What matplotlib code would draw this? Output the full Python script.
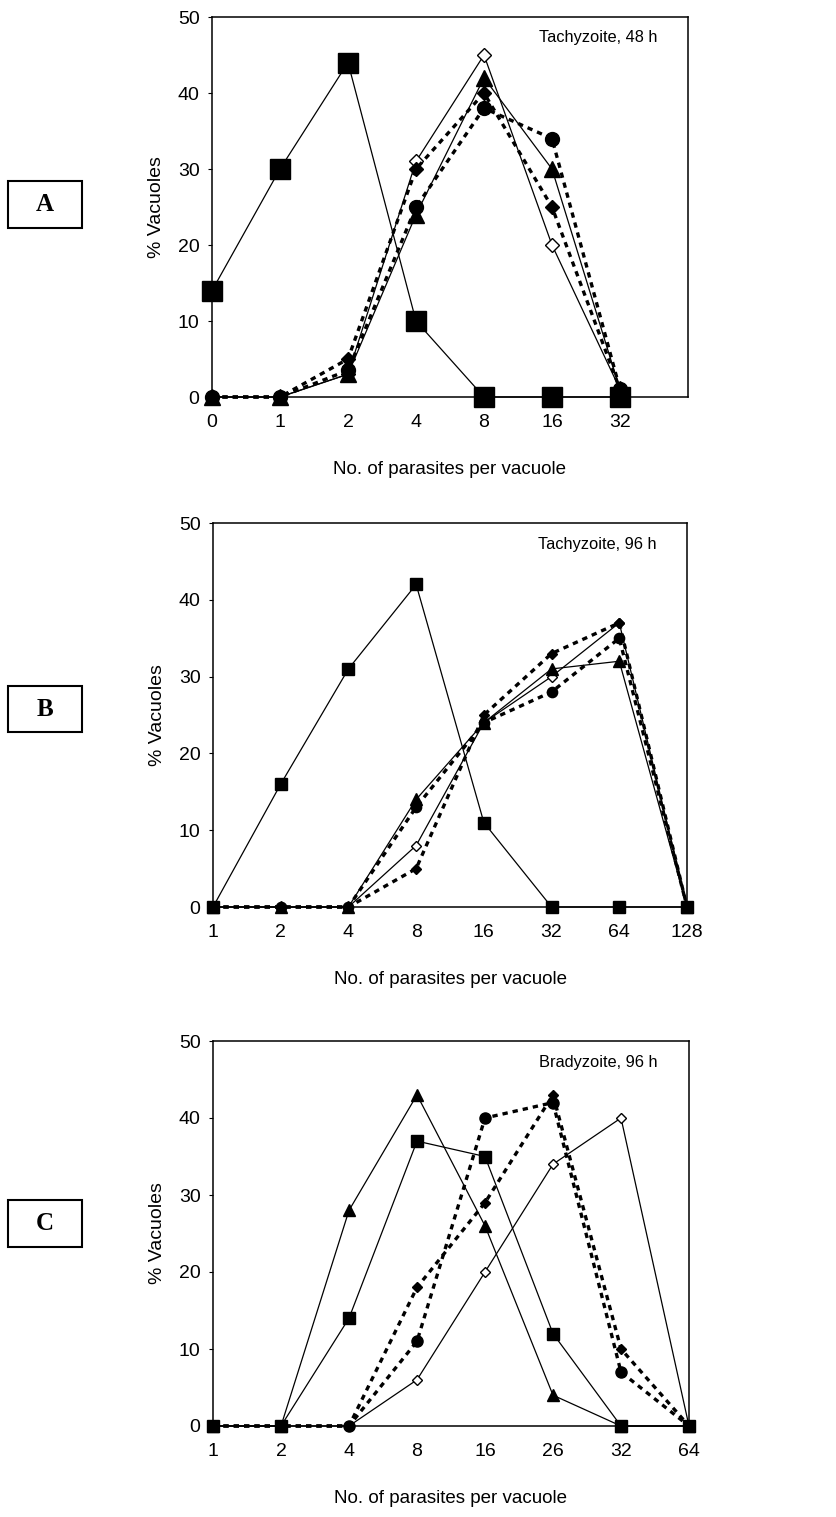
import matplotlib
matplotlib.use('Agg')
import matplotlib.pyplot as plt
from matplotlib.patches import Rectangle

plt.rcParams['font.family'] = ['Liberation Sans', 'DejaVu Sans']

# x categories (parasites per vacuole) for each panel
cats_a = ['0', '1', '2', '4', '8', '16', '32']
cats_b = ['1', '2', '4', '8', '16', '32', '64', '128']
cats_c = ['1', '2', '4', '8', '16', '26', '32', '64']

# % vacuoles, panel A (tachyzoite, 48 h)
a_square = [14, 30, 44, 10, 0, 0, 0]
a_open_diamond = [0, 0, 3, 31, 45, 20, 1]
a_triangle = [0, 0, 3, 24, 42, 30, 1]
a_diamond = [0, 0, 5, 30, 40, 25, 1]
a_circle = [0, 0, 3.5, 25, 38, 34, 1]

# panel B (tachyzoite, 96 h)
b_square = [0, 16, 31, 42, 11, 0, 0, 0]
b_open_diamond = [0, 0, 0, 8, 24, 30, 37, 0]
b_triangle = [0, 0, 0, 14, 24, 31, 32, 0]
b_diamond = [0, 0, 0, 5, 25, 33, 37, 0]
b_circle = [0, 0, 0, 13, 24, 28, 35, 0]

# panel C (bradyzoite, 96 h)
c_square = [0, 0, 14, 37, 35, 12, 0, 0]
c_open_diamond = [0, 0, 0, 6, 20, 34, 40, 0]
c_triangle = [0, 0, 28, 43, 26, 4, 0, 0]
c_diamond = [0, 0, 0, 18, 29, 43, 10, 0]
c_circle = [0, 0, 0, 11, 40, 42, 7, 0]

solid = dict(color='black', lw=0.9, linestyle='-')
dotted = dict(color='black', lw=2.4, linestyle=(0, (1.6, 1.5)))


def panel(ax, cats, sq, od, tri, dia, circ, note, ms):
    # ms = (square, circle, triangle, diamond) marker sizes
    m_sq, m_ci, m_tr, m_di = ms
    x = list(range(len(cats)))
    ax.plot(x, od, marker='D', mfc='white', mec='black', mew=1.0, ms=m_di, **solid)
    ax.plot(x, tri, marker='^', mfc='black', mec='black', ms=m_tr, **solid)
    ax.plot(x, dia, marker='D', mfc='black', mec='black', ms=m_di, **dotted)
    ax.plot(x, circ, marker='o', mfc='black', mec='black', ms=m_ci, **dotted)
    ax.plot(x, sq, marker='s', mfc='black', mec='black', ms=m_sq, **solid)
    ax.set_xlim(0, 7)
    ax.set_ylim(0, 50)
    ax.set_yticks(range(0, 51, 10))
    ax.set_xticks(x)
    ax.set_xticklabels(cats)
    ax.tick_params(axis='x', length=0, pad=12, labelsize=14)
    ax.tick_params(axis='y', length=3, width=0.8, pad=6, labelsize=14)
    for s in ax.spines.values():
        s.set_linewidth(1.1)
    ax.set_xlabel('No. of parasites per vacuole', fontsize=13.5, labelpad=22)
    ax.set_ylabel('% Vacuoles', fontsize=14, labelpad=9)
    ax.text(0.935, 0.945, note, transform=ax.transAxes, ha='right', va='center', fontsize=11.8)
    for ln in ax.lines:
        ln.set_clip_on(False)


fig = plt.figure(figsize=(8.37, 15.17), dpi=100)
W, H = 837, 1517

# (left, right, top, zero-line) in pixels
frames = [(212, 688, 17, 397), (213, 687, 523, 907), (213, 689, 1041, 1426)]
axes = []
for l, r, t, b in frames:
    axes.append(fig.add_axes([l / W, 1 - b / H, (r - l) / W, (b - t) / H]))

panel(axes[0], cats_a, a_square, a_open_diamond, a_triangle, a_diamond, a_circle,
      'Tachyzoite, 48 h', (14.4, 10, 11, 7))
panel(axes[1], cats_b, b_square, b_open_diamond, b_triangle, b_diamond, b_circle,
      'Tachyzoite, 96 h', (8.6, 7.4, 8.2, 5.6))
panel(axes[2], cats_c, c_square, c_open_diamond, c_triangle, c_diamond, c_circle,
      'Bradyzoite, 96 h', (8.6, 8, 8.8, 5.6))

# letter boxes beside each panel
bw, bh, cx = 74, 47, 45
for letter, cy in [('A', 204.5), ('B', 709), ('C', 1223.5)]:
    fig.patches.append(Rectangle(((cx - bw / 2) / W, 1 - (cy + bh / 2) / H), bw / W, bh / H,
                                 transform=fig.transFigure, fill=False, lw=1.5, ec='black'))
    fig.text(cx / W, 1 - cy / H, letter, ha='center', va='center', fontsize=18,
             fontweight='bold', family=['Liberation Serif', 'DejaVu Serif'])

fig.savefig('out.png', dpi=100)
